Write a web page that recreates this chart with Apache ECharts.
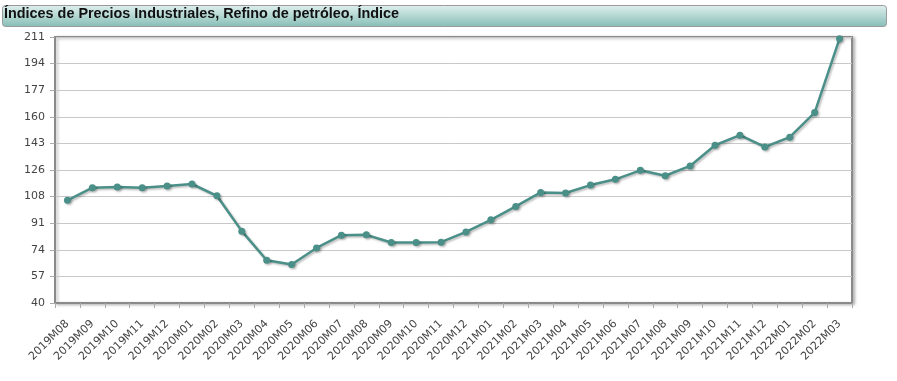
<!DOCTYPE html>
<html><head><meta charset="utf-8">
<script src="https://cdn.jsdelivr.net/npm/echarts@6/dist/echarts.min.js"></script>
<style>html,body{margin:0;padding:0;background:#fff}#c{width:897px;height:381px}</style>
</head><body><div id="c"></div>
<script>
const titleText = 'Índices de Precios Industriales, Refino de petróleo, Índice';
const categories = ['2019M08','2019M09','2019M10','2019M11','2019M12','2020M01','2020M02','2020M03','2020M04','2020M05','2020M06','2020M07','2020M08','2020M09','2020M10','2020M11','2020M12','2021M01','2021M02','2021M03','2021M04','2021M05','2021M06','2021M07','2021M08','2021M09','2021M10','2021M11','2021M12','2022M01','2022M02','2022M03'];
const values = [106.0,114.1,114.5,114.1,115.2,116.5,108.9,86.2,67.5,64.7,75.4,83.6,83.8,78.9,78.9,79.1,85.7,93.5,102.1,111.1,110.7,115.8,119.5,125.3,121.8,128.1,141.4,147.9,140.3,146.6,162.4,209.9];
const yTickLabels = ['40','57','74','91','108','126','143','160','177','194','211'];
const yMin = 40, yMax = 211, yStep = 17.1;

const chart = echarts.init(document.getElementById('c'), null, {renderer:'canvas'});
chart.setOption({
  animation:false,
  backgroundColor:'#fff',
  graphic:[
    {type:'rect', shape:{x:2.5,y:5.5,width:884,height:21,r:3}, style:{
      fill:new echarts.graphic.LinearGradient(0,0,0,1,[{offset:0,color:'#dff0ee'},{offset:1,color:'#86bdb6'}]),
      stroke:'#9a9a9a', lineWidth:1}, z:0},
    {type:'text', left:4, top:7, style:{text:titleText, font:'bold 14.4px "Liberation Sans", Arial, sans-serif', fill:'#111'}, z:1}
  ],
  grid:{left:55, right:45, top:37, bottom:78, show:true, borderColor:'#8a8a8a', borderWidth:2,
    backgroundColor:'#fff', shadowColor:'rgba(0,0,0,0.25)', shadowBlur:3, shadowOffsetX:2, shadowOffsetY:1},
  xAxis:{type:'category', data:categories, boundaryGap:true,
    axisLine:{lineStyle:{color:'#8a8a8a', width:2}},
    axisTick:{show:true, alignWithLabel:false, length:5, lineStyle:{color:'#aaa'}},
    axisLabel:{rotate:45, interval:0, margin:19, color:'#444', fontSize:11, fontFamily:'"DejaVu Sans", sans-serif'},
    splitLine:{show:false}},
  yAxis:[
    {type:'value', min:0, max:yMax-yMin, interval:yStep,
      axisLine:{show:true, lineStyle:{color:'#8a8a8a', width:2}},
      axisTick:{show:true, length:5, lineStyle:{color:'#aaa'}},
      axisLabel:{margin:10, color:'#444', fontSize:11, fontFamily:'"DejaVu Sans", sans-serif',
        formatter:v=>yTickLabels[Math.round(v/yStep)]},
      splitLine:{show:true, lineStyle:{color:'#c8c8c8', width:1}}},
    {type:'value', min:yMin, max:yMax, show:false, splitLine:{show:false}}
  ],
  series:[{type:'line', yAxisIndex:1, data:values, symbol:'circle', symbolSize:7,
    lineStyle:{color:'#4a8f88', width:2.5, shadowColor:'rgba(0,0,0,0.25)', shadowBlur:2, shadowOffsetX:1.5, shadowOffsetY:1.5},
    itemStyle:{color:'#4a8f88', shadowColor:'rgba(0,0,0,0.25)', shadowBlur:2, shadowOffsetX:1.5, shadowOffsetY:1.5}}]
});
</script></body></html>
